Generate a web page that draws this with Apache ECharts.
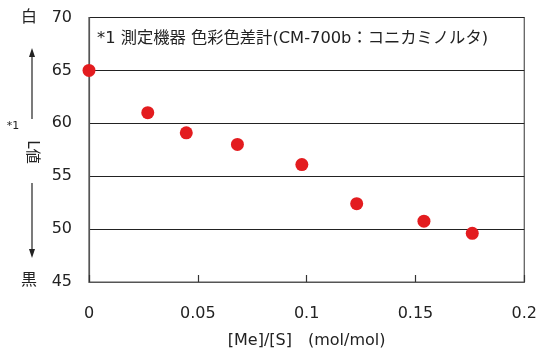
<!DOCTYPE html>
<html><head><meta charset="utf-8">
<script src="https://cdn.jsdelivr.net/npm/echarts@6/dist/echarts.min.js"></script>
<style>html,body{margin:0;padding:0;background:#fff}#c{width:540px;height:354px}</style>
</head><body><div id="c"></div>
<script>
const ratio = [0, 0.027, 0.0447, 0.0682, 0.0978, 0.1230, 0.1539, 0.1761];
const lValue = [65.0, 61.0, 59.1, 58.0, 56.1, 52.4, 50.75, 49.6];
const xTicks = [0, 0.05, 0.1, 0.15, 0.2];
const yTicks = [45, 50, 55, 60, 65, 70];
const note = '*1 測定機器 色彩色差計(CM-700b：コニカミノルタ)';
const xName = '[Me]/[S]　(mol/mol)';

const font = '"DejaVu Sans","Noto Sans CJK JP",sans-serif';
const chart = echarts.init(document.getElementById('c'));
const pts = ratio.map((x, i) => [x, lValue[i]]);
chart.setOption({
  animation: false,
  grid: {left: 89, right: 13, top: 17.5, bottom: 71, show: true, borderColor: '#555', borderWidth: 1.2, backgroundColor: 'transparent'},
  xAxis: {
    type: 'value', min: xTicks[0], max: xTicks[xTicks.length - 1], interval: 0.05,
    axisLine: {show: true, lineStyle: {color: '#555', width: 1.2}},
    axisTick: {show: true, inside: true, length: 7, lineStyle: {color: '#333', width: 1.2}},
    splitLine: {show: false},
    axisLabel: {color: '#222', fontSize: 16, fontFamily: font, margin: 24},
    name: xName, nameLocation: 'middle', nameGap: 51,
    nameTextStyle: {color: '#222', fontSize: 16, fontFamily: font}
  },
  yAxis: {
    type: 'value', min: yTicks[0], max: yTicks[yTicks.length - 1], interval: 5,
    axisLine: {show: true, lineStyle: {color: '#555', width: 1.2}},
    axisTick: {show: false},
    splitLine: {show: true, lineStyle: {color: '#222', width: 1.2}},
    axisLabel: {color: '#222', fontSize: 16, fontFamily: font, margin: 17}
  },
  series: [{
    type: 'scatter', data: pts, symbol: 'circle', symbolSize: 13,
    itemStyle: {color: '#e31c1f', opacity: 1}, z: 5
  }],
  graphic: [
    {type: 'text', left: 97, top: 31, style: {text: note, fill: '#222', fontSize: 16.3, fontFamily: font}},
    {type: 'text', x: 29, y: 18, style: {text: '白', fill: '#222', fontSize: 16, fontFamily: font, align: 'center', verticalAlign: 'middle'}},
    {type: 'text', x: 29, y: 281, style: {text: '黒', fill: '#222', fontSize: 16, fontFamily: font, align: 'center', verticalAlign: 'middle'}},
    {type: 'text', x: 13, y: 126, style: {text: '*1', fill: '#222', fontSize: 11, fontFamily: font, align: 'center', verticalAlign: 'middle'}},
    {type: 'text', x: 32, y: 152, rotation: -Math.PI / 2, style: {text: 'L値', fill: '#222', fontSize: 15, fontFamily: font, align: 'center', verticalAlign: 'middle'}},
    {type: 'line', shape: {x1: 32, y1: 54, x2: 32, y2: 119}, style: {stroke: '#222', lineWidth: 1.2}},
    {type: 'polygon', shape: {points: [[32, 48], [29, 57], [35, 57]]}, style: {fill: '#222'}},
    {type: 'line', shape: {x1: 32, y1: 183, x2: 32, y2: 252}, style: {stroke: '#222', lineWidth: 1.2}},
    {type: 'polygon', shape: {points: [[32, 258], [29, 249], [35, 249]]}, style: {fill: '#222'}}
  ]
});
</script></body></html>
